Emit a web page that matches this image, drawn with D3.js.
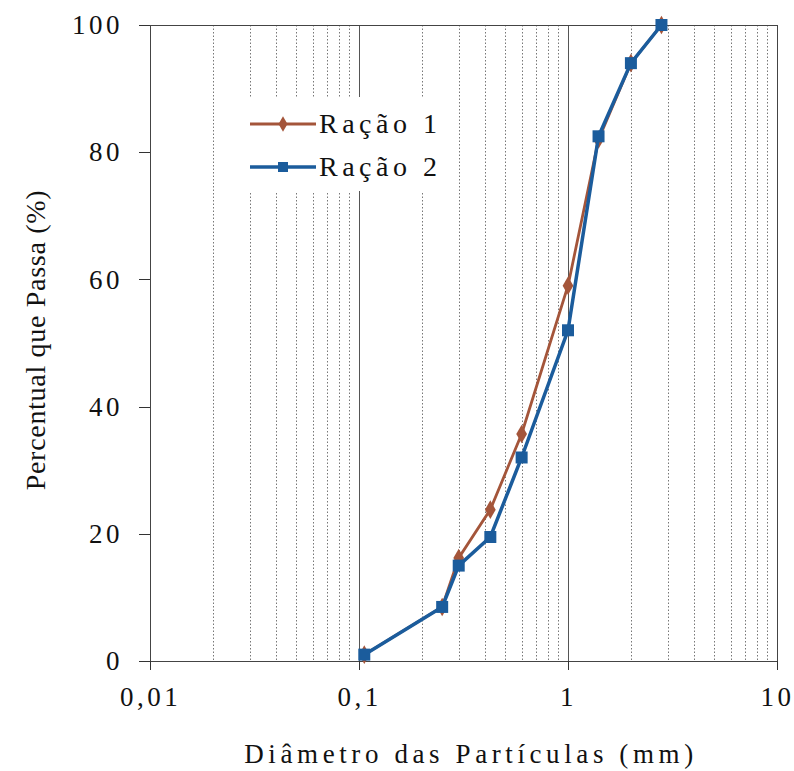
<!DOCTYPE html>
<html lang="pt">
<head>
<meta charset="UTF-8">
<title>Curva granulométrica</title>
<style>
    body { margin: 0; background: #fff; }
    .axis path, .axis line { fill: none; stroke: #333; shape-rendering: crispEdges; }
    .axis text { font-family: "Liberation Serif", "Times New Roman", serif; font-size: 27px; fill: #111; letter-spacing: 3.5px; }
    .grid-minor { stroke: #777; stroke-width: 1; stroke-dasharray: 1.5 2; }
    .grid-major { stroke: #555; stroke-width: 1; }
    .label { font-family: "Liberation Serif", "Times New Roman", serif; font-size: 27px; fill: #111; }
</style>
</head>
<body>
<script src="https://d3js.org/d3.v7.min.js"></script>
<script>
    var width = 794, height = 771;
    var padding = { left: 150, right: 17, top: 25, bottom: 110 };

    // dados
    var diametros = [0.106, 0.25, 0.3, 0.425, 0.6, 1.0, 1.4, 2.0, 2.8];
    var racao1 = [1, 8.5, 16.2, 23.8, 35.7, 59, 82, 94, 100];
    var racao2 = [1, 8.5, 15, 19.5, 32, 52, 82.5, 94, 100];
    var xTicks = [0.01, 0.1, 1, 10];
    var xTickLabels = ["0,01", "0,1", "1", "10"];
    var yTicks = [0, 20, 40, 60, 80, 100];
    var seriesNames = ["Ração 1", "Ração 2"];
    var seriesColors = ["#a4553a", "#1b5c9c"];

    var svg = d3.select('body').append('svg').attr('width', width).attr('height', height);
    var innerW = width - padding.left - padding.right;
    var innerH = height - padding.top - padding.bottom;

    var xScale = d3.scaleLog().domain([0.01, 10]).range([0, innerW]);
    var yScale = d3.scaleLinear().domain([0, 100]).range([innerH, 0]);

    var g = svg.append('g').attr('transform', 'translate(' + padding.left + ',' + padding.top + ')');

    // grade vertical
    var minor = [];
    [0.01, 0.1, 1].forEach(function (d) {
        for (var k = 2; k <= 9; k++) minor.push(d * k);
    });
    g.selectAll('.grid-minor').data(minor).enter().append('line')
        .attr('class', 'grid-minor')
        .attr('x1', function (d) { return Math.round(xScale(d)) + 0.5; })
        .attr('x2', function (d) { return Math.round(xScale(d)) + 0.5; })
        .attr('y1', 0).attr('y2', innerH);
    g.selectAll('.grid-major').data([0.1, 1]).enter().append('line')
        .attr('class', 'grid-major')
        .attr('x1', function (d) { return Math.round(xScale(d)) + 0.5; })
        .attr('x2', function (d) { return Math.round(xScale(d)) + 0.5; })
        .attr('y1', 0).attr('y2', innerH);

    // moldura
    g.append('rect').attr('x', 0.5).attr('y', 0.5).attr('width', innerW).attr('height', innerH)
        .attr('fill', 'none').attr('stroke', '#444').attr('stroke-width', 1);

    // eixos
    g.append('g').attr('class', 'axis')
        .attr('transform', 'translate(0,' + innerH + ')')
        .call(d3.axisBottom(xScale).tickValues(xTicks).tickSize(9).tickPadding(17)
            .tickFormat(function (d, i) { return xTickLabels[i]; }));
    g.append('g').attr('class', 'axis')
        .call(d3.axisLeft(yScale).tickValues(yTicks).tickSize(11).tickPadding(16));
    g.selectAll('.axis .domain').remove();

    // legenda (fundo branco)
    var leg = svg.append('g').attr('transform', 'translate(240,97)');
    leg.append('rect').attr('width', 205).attr('height', 94).attr('fill', '#fff');

    var line = d3.line()
        .x(function (d, i) { return xScale(diametros[i]); })
        .y(function (d) { return yScale(d); });

    var allSeries = [racao1, racao2];
    allSeries.forEach(function (s, si) {
        g.append('path').datum(s)
            .attr('fill', 'none')
            .attr('stroke', seriesColors[si])
            .attr('stroke-width', si === 0 ? 2.8 : 3.5)
            .attr('d', line);
        var sym = d3.symbol().type(si === 0 ? d3.symbolDiamond : d3.symbolSquare).size(si === 0 ? 100 : 144);
        g.selectAll('.pt' + si).data(s).enter().append('path')
            .attr('class', 'pt' + si)
            .attr('transform', function (d, i) {
                return 'translate(' + xScale(diametros[i]) + ',' + yScale(d) + ')';
            })
            .attr('d', sym)
            .attr('fill', seriesColors[si]);

        var ly = 27 + si * 43;
        leg.append('line').attr('x1', 10).attr('x2', 76).attr('y1', ly).attr('y2', ly)
            .attr('stroke', seriesColors[si]).attr('stroke-width', si === 0 ? 2.8 : 3.5);
        leg.append('path').attr('transform', 'translate(43,' + ly + ')')
            .attr('d', d3.symbol().type(si === 0 ? d3.symbolDiamond : d3.symbolSquare).size(si === 0 ? 70 : 100))
            .attr('fill', seriesColors[si]);
        leg.append('text').attr('class', 'label').attr('x', 79).attr('y', ly + 9)
            .style('font-size', '28px').style('letter-spacing', '4.5px')
            .text(seriesNames[si]);
    });

    // títulos dos eixos
    svg.append('text').attr('class', 'label')
        .attr('x', 471).attr('y', 763)
        .attr('text-anchor', 'middle').style('letter-spacing', '4.6px')
        .text('Diâmetro das Partículas (mm)');
    svg.append('text').attr('class', 'label')
        .attr('transform', 'translate(45,340) rotate(-90)')
        .attr('text-anchor', 'middle').style('font-size', '28px').style('letter-spacing', '0.7px')
        .text('Percentual que Passa (%)');
</script>
</body>
</html>
